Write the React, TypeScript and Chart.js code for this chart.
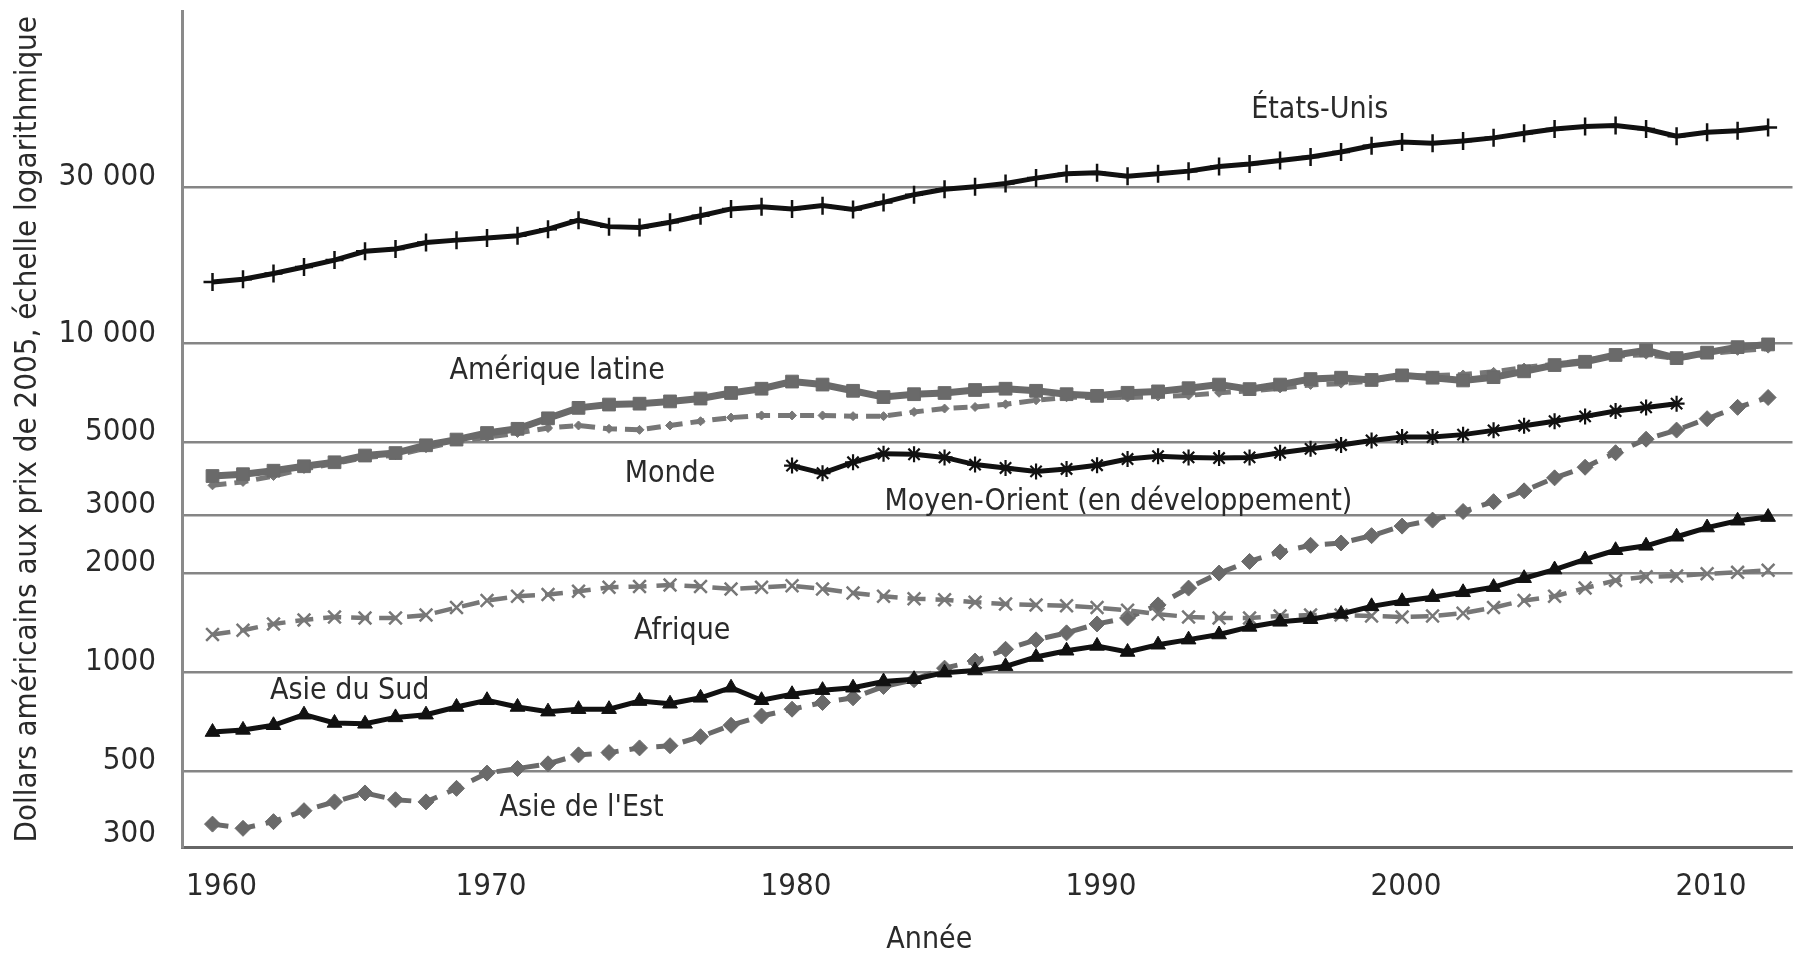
import React, { useEffect, useRef } from "react";
import { Chart, registerables } from "chart.js";

Chart.register(...registerables);

const FONT = "'Liberation Sans Narrow', 'DejaVu Sans Condensed', 'Arial Narrow', sans-serif";

const years = [
  1961, 1962, 1963, 1964, 1965, 1966, 1967, 1968, 1969, 1970,
  1971, 1972, 1973, 1974, 1975, 1976, 1977, 1978, 1979, 1980,
  1981, 1982, 1983, 1984, 1985, 1986, 1987, 1988, 1989, 1990,
  1991, 1992, 1993, 1994, 1995, 1996, 1997, 1998, 1999, 2000,
  2001, 2002, 2003, 2004, 2005, 2006, 2007, 2008, 2009, 2010,
  2011, 2012,
];

const yearsMoyenOrient = [
  1980, 1981, 1982, 1983, 1984, 1985, 1986, 1987, 1988, 1989,
  1990, 1991, 1992, 1993, 1994, 1995, 1996, 1997, 1998, 1999,
  2000, 2001, 2002, 2003, 2004, 2005, 2006, 2007, 2008, 2009,
];

const etatsUnis = [
  15400, 15700, 16350, 17100, 17950, 19100, 19400, 20300, 20650, 20950,
  21300, 22300, 23750, 22700, 22550, 23400, 24500, 25700, 26100, 25700,
  26300, 25600, 26900, 28400, 29500, 30000, 30700, 31900, 32900, 33100,
  32300, 32900, 33500, 34600, 35200, 36100, 37000, 38300, 40000, 41100,
  40700, 41400, 42300, 43700, 45000, 45800, 46100, 45000, 42800, 44000,
  44500, 45500,
];

const ameriqueLatine = [
  3950, 4000, 4100, 4230, 4350, 4560, 4640, 4900, 5100, 5340,
  5500, 5920, 6370, 6520, 6560, 6665, 6800, 7070, 7285, 7660,
  7500, 7180, 6870, 7010, 7070, 7220, 7285, 7180, 7010, 6930,
  7080, 7150, 7310, 7500, 7265, 7500, 7795, 7870, 7745, 8000,
  7870, 7720, 7900, 8230, 8600, 8800, 9230, 9530, 9030, 9380,
  9750, 9940,
];

const monde = [
  3700, 3790, 3950, 4150, 4310, 4500, 4570, 4800, 5030, 5180,
  5340, 5530, 5630, 5500, 5460, 5630, 5800, 5950, 6040, 6040,
  6040, 6010, 6010, 6190, 6340, 6410, 6530, 6720, 6860, 6850,
  6850, 6900, 6950, 7080, 7180, 7300, 7480, 7550, 7700, 7950,
  7980, 8050, 8200, 8450, 8650, 8900, 9150, 9250, 9000, 9300,
  9500, 9650,
];

const moyenOrient = [
  4250, 4030, 4350, 4620, 4600, 4500, 4280, 4180, 4080, 4150,
  4260, 4450, 4540, 4500, 4480, 4500, 4650, 4780, 4910, 5070,
  5190, 5190, 5280, 5440, 5620, 5800, 6000, 6230, 6390, 6560,
];

const afrique = [
  1300, 1340, 1400, 1440, 1470, 1460, 1460, 1490, 1570, 1650,
  1700, 1720, 1760, 1810, 1820, 1840, 1820, 1790, 1810, 1830,
  1790, 1740, 1700, 1670, 1660, 1630, 1610, 1600, 1590, 1570,
  1540, 1500, 1470, 1460, 1460, 1480, 1490, 1490, 1480, 1470,
  1480, 1510, 1570, 1650, 1700, 1800, 1900, 1950, 1960, 1990,
  2010, 2040,
];

const asieDuSud = [
  656, 666, 688, 741, 699, 695, 727, 741, 782, 820,
  782, 757, 770, 770, 815, 800, 834, 895, 820, 855,
  880, 895, 935, 950, 995, 1010, 1040, 1110, 1160, 1200,
  1150, 1210, 1254, 1300, 1371, 1421, 1447, 1501, 1584, 1641,
  1689, 1748, 1812, 1929, 2050, 2200, 2347, 2421, 2580, 2752,
  2887, 2962,
];

const asieDeLEst = [
  344, 334, 350, 378, 402, 428, 408, 402, 442, 492,
  508, 525, 559, 568, 587, 596, 635, 688, 734, 770,
  807, 834, 903, 947, 1027, 1079, 1172, 1252, 1315, 1400,
  1460, 1600, 1800, 2000, 2170, 2320, 2430, 2470, 2600, 2780,
  2900, 3080, 3300, 3560, 3900, 4200, 4650, 5113, 5451, 5904,
  6393, 6850,
];

const yTickValues = [300, 500, 1000, 2000, 3000, 5000, 10000, 30000];
const xTickValues = [1960, 1970, 1980, 1990, 2000, 2010];

const yTitle = "Dollars américains aux prix de 2005, échelle logarithmique";
const xTitle = "Année";
const xTitleYear = 1984.5;

// series name labels, placed in data coordinates (year, value)
const seriesLabelTexts = [
  "États-Unis",
  "Amérique latine",
  "Monde",
  "Moyen-Orient (en développement)",
  "Afrique",
  "Asie du Sud",
  "Asie de l'Est",
];
const seriesLabelYears = [1997.3, 1972.3, 1976.0, 1990.7, 1976.4, 1965.5, 1973.1];
const seriesLabelValues = [51400, 8265, 4000, 3290, 1328, 874, 384];

const BLACK = "#111111";
const GRAY = "#6a6a6a";
const GRAY2 = "#777777";
const TEXT = "#2a2a2a";

const TICK_SIZE = 31;
const LABEL_SIZE = 30;

function pts(xs: number[], ys: number[]) {
  return xs.map((x, i) => ({ x, y: ys[i] }));
}

function formatY(v: number) {
  if (v >= 10000) return `${Math.round(v / 1000)} 000`;
  return String(v);
}

const labelPlugin = {
  id: "seriesLabels",
  afterDatasetsDraw(chart: any) {
    const { ctx } = chart;
    const x = chart.scales.x;
    const y = chart.scales.y;
    ctx.save();
    ctx.fillStyle = TEXT;
    ctx.textAlign = "center";
    ctx.textBaseline = "middle";
    ctx.font = `${LABEL_SIZE}px ${FONT}`;
    seriesLabelTexts.forEach((t, i) => {
      ctx.fillText(t, x.getPixelForValue(seriesLabelYears[i]), y.getPixelForValue(seriesLabelValues[i]));
    });
    ctx.font = `${LABEL_SIZE}px ${FONT}`;
    ctx.fillText(xTitle, x.getPixelForValue(xTitleYear), chart.height - 17);
    ctx.restore();
  },
};

export default function App() {
  const ref = useRef<HTMLCanvasElement>(null);

  useEffect(() => {
    document.body.style.margin = "0";
    const canvas = ref.current;
    if (!canvas) return;

    const chart = new Chart(canvas, {
      type: "line",
      data: {
        datasets: [
          {
            label: "États-Unis",
            data: pts(years, etatsUnis),
            borderColor: BLACK,
            borderWidth: 5,
            pointStyle: "cross",
            pointRadius: 9,
            pointBorderWidth: 2.5,
            pointBorderColor: BLACK,
            pointBackgroundColor: BLACK,
          },
          {
            label: "Moyen-Orient (en développement)",
            data: pts(yearsMoyenOrient, moyenOrient),
            borderColor: BLACK,
            borderWidth: 5,
            pointStyle: "star",
            pointRadius: 8,
            pointBorderWidth: 2.2,
            pointBorderColor: BLACK,
            pointBackgroundColor: BLACK,
          },
          {
            label: "Asie du Sud",
            data: pts(years, asieDuSud),
            borderColor: BLACK,
            borderWidth: 5,
            pointStyle: "triangle",
            pointRadius: 8.5,
            pointBorderWidth: 1,
            pointBorderColor: BLACK,
            pointBackgroundColor: BLACK,
          },
          {
            label: "Amérique latine",
            data: pts(years, ameriqueLatine),
            borderColor: GRAY,
            borderWidth: 7,
            pointStyle: "rect",
            pointRadius: 9,
            pointBorderWidth: 1,
            pointBorderColor: GRAY,
            pointBackgroundColor: GRAY,
          },
          {
            label: "Monde",
            data: pts(years, monde),
            borderColor: GRAY2,
            borderWidth: 5,
            borderDash: [14, 8],
            pointStyle: "rectRot",
            pointRadius: 4.5,
            pointBorderWidth: 1,
            pointBorderColor: GRAY2,
            pointBackgroundColor: GRAY2,
          },
          {
            label: "Afrique",
            data: pts(years, afrique),
            borderColor: GRAY2,
            borderWidth: 4.5,
            borderDash: [18, 10],
            pointStyle: "crossRot",
            pointRadius: 9,
            pointBorderWidth: 2.5,
            pointBorderColor: GRAY2,
            pointBackgroundColor: GRAY2,
          },
          {
            label: "Asie de l'Est",
            data: pts(years, asieDeLEst),
            borderColor: GRAY,
            borderWidth: 5,
            borderDash: [16, 11],
            pointStyle: "rectRot",
            pointRadius: 8,
            pointBorderWidth: 1,
            pointBorderColor: GRAY,
            pointBackgroundColor: GRAY,
          },
        ],
      },
      options: {
        animation: false,
        responsive: false,
        maintainAspectRatio: false,
        layout: { padding: { left: 0, top: 7, right: 10, bottom: 0 } },
        elements: { line: { tension: 0 } },
        plugins: {
          legend: { display: false },
          tooltip: { enabled: false },
        },
        scales: {
          x: {
            type: "linear",
            min: 1960,
            max: 2012.8,
            afterBuildTicks: (s: any) => {
              s.ticks = [...xTickValues.map((v) => ({ value: v })), { value: s.max }];
            },
            afterFit: (s: any) => {
              s.height = 110;
              s.paddingLeft = 0;
              s.paddingRight = 0;
            },
            grid: { display: false, drawTicks: false },
            border: { display: true, color: "#666666", width: 3 },
            ticks: {
              autoSkip: false,
              maxRotation: 0,
              align: "inner",
              labelOffset: 4,
              padding: 21,
              color: TEXT,
              font: { family: FONT, size: TICK_SIZE },
              callback: (v: any) => (xTickValues.includes(Number(v)) ? String(v) : ""),
            },
            title: { display: false },
          },
          y: {
            type: "logarithmic",
            min: 293,
            max: 102600,
            afterBuildTicks: (s: any) => {
              s.ticks = yTickValues.map((v) => ({ value: v }));
            },
            afterFit: (s: any) => {
              s.width = 182;
              s.paddingTop = 0;
              s.paddingBottom = 0;
            },
            grid: {
              drawTicks: false,
              color: (c: any) => (c.tick && c.tick.value === 300 ? "rgba(0,0,0,0)" : "#858585"),
              lineWidth: 2.5,
            },
            border: { display: true, color: "#8a8a8a", width: 3 },
            ticks: {
              autoSkip: false,
              padding: 26,
              labelOffset: -10,
              color: TEXT,
              font: { family: FONT, size: TICK_SIZE },
              callback: (v: any) => formatY(Number(v)),
            },
            title: {
              display: true,
              text: yTitle,
              color: TEXT,
              font: { family: FONT, size: 31, lineHeight: 1.2 },
              padding: { top: 9, bottom: 0 },
            },
          },
        },
      } as any,
      plugins: [labelPlugin],
    });

    return () => chart.destroy();
  }, []);

  return (
    <div style={{ width: 1804, height: 957 }}>
      <canvas ref={ref} width={1804} height={957} style={{ display: "block" }} />
    </div>
  );
}
